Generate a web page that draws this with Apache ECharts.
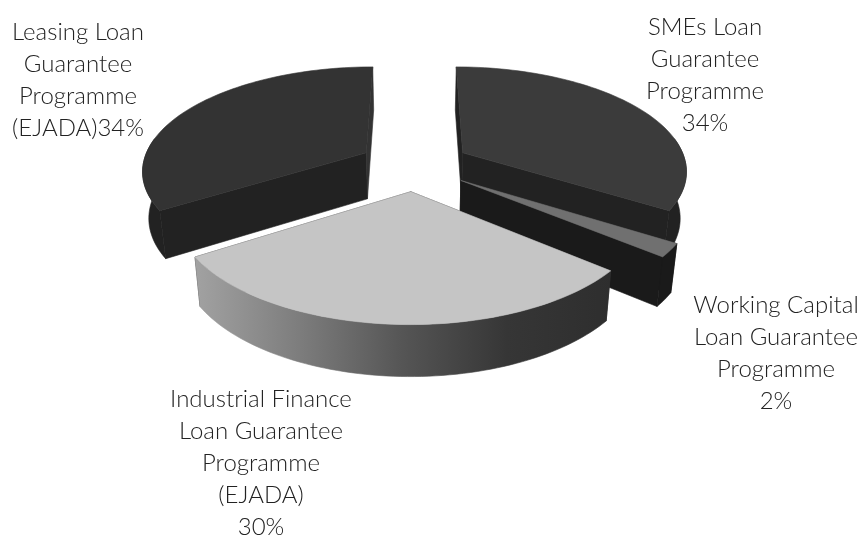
<!DOCTYPE html>
<html>
<head>
<meta charset="utf-8">
<style>html,body{margin:0;padding:0;background:#fff}#chart{width:865px;height:536px}</style>
<script src="https://cdn.jsdelivr.net/npm/echarts@6/dist/echarts.min.js"></script>
</head>
<body>
<div id="chart"></div>
<script>
// Loan guarantee programmes, clockwise from the far side of the pie.
const categories = [
  'SMEs Loan\nGuarantee\nProgramme\n',
  'Working Capital\nLoan Guarantee\nProgramme\n',
  'Industrial Finance\nLoan Guarantee\nProgramme\n(EJADA)\n',
  'Leasing Loan\nGuarantee\nProgramme\n(EJADA)'
];
const values = [34, 2, 30, 34];
const topColors = ['#3b3b3b', '#707070', '#c5c5c5', '#333333'];
const sideColors = ['#222222', '#1a1a1a', null, '#222222'];
const closingFaceColors = ['#222222', '#1a1a1a', '#2e2e2e', '#333333'];
const labelCenters = [[705, 75], [776, 353], [261, 463], [78, 80]];

// Perspective of the pie's ground plane.
const CX = 414.5, RX = 224, Y_HORIZON = -495, Y_REF = 660, PERSP = 2.361e-4;
const EXPLODE = 0.25;
const total = values.reduce((a, b) => a + b, 0);

function project(u, v) {
  const yy = 1 / (1 / Y_REF - PERSP * v);
  return [CX + RX * u * yy / Y_REF, yy + Y_HORIZON];
}
// The foot of a point on the top face: the rim's height grows towards the viewer.
function drop(p) {
  return [CX + (p[0] - CX) * 0.977, p[1] + 46 + (p[1] - 153) * 0.035];
}

function sliceOutline(start, end, ox, oy) {
  const arc = [];
  const rim = [];
  const steps = 72;
  for (let k = 0; k <= steps; k++) {
    const t = start + (end - start) * k / steps;
    const p = project(ox + Math.sin(t), oy - Math.cos(t));
    arc.push(p);
    // Only the part of the rim that faces the viewer gets a wall.
    if (Math.cos(t) < 0.15) rim.push(p);
  }
  return { apex: project(ox, oy), arc, rim };
}

const rimGradient = new echarts.graphic.LinearGradient(0, 0, 1, 0, [
  { offset: 0, color: '#a2a2a2' },
  { offset: 0.25, color: '#7d7d7d' },
  { offset: 0.5, color: '#555555' },
  { offset: 0.75, color: '#363636' },
  { offset: 1, color: '#2e2e2e' }
]);

function poly(points, fill) {
  return {
    type: 'polygon',
    shape: { points },
    style: { fill, stroke: fill, lineWidth: 0.6 }
  };
}

let acc = 0;
const sweeps = values.map(v => {
  const s = acc / total * Math.PI * 2;
  acc += v;
  return [s, acc / total * Math.PI * 2];
});

function renderItem(params, api) {
  const i = params.dataIndex;
  const value = api.value(0);
  const [start, end] = sweeps[i];
  const mid = (start + end) / 2;
  const { apex, arc, rim } = sliceOutline(start, end, EXPLODE * Math.sin(mid), -EXPLODE * Math.cos(mid));
  const first = arc[0], last = arc[arc.length - 1];
  const side = sideColors[i] || '#2e2e2e';
  const children = [];
  children.push(poly([apex, first, drop(first), drop(apex)], side));
  children.push(poly([apex, last, drop(last), drop(apex)], closingFaceColors[i]));
  children.push(poly(rim.concat(rim.map(drop).reverse()), sideColors[i] || rimGradient));
  children.push(poly([apex].concat(arc), topColors[i]));
  children.push({
    type: 'text',
    style: {
      text: categories[i] + value + '%',
      x: labelCenters[i][0],
      y: labelCenters[i][1],
      align: 'center',
      verticalAlign: 'middle',
      fill: '#222222',
      font: '300 24px Lato, "Open Sans", sans-serif',
      lineHeight: 32
    }
  });
  return { type: 'group', children };
}

const chart = echarts.init(document.getElementById('chart'), null, { renderer: 'canvas' });
chart.setOption({
  animation: false,
  backgroundColor: '#ffffff',
  series: [{
    type: 'custom',
    coordinateSystem: 'none',
    renderItem,
    data: categories.map((name, i) => ({ name, value: [values[i]] }))
  }]
});
</script>
</body>
</html>
